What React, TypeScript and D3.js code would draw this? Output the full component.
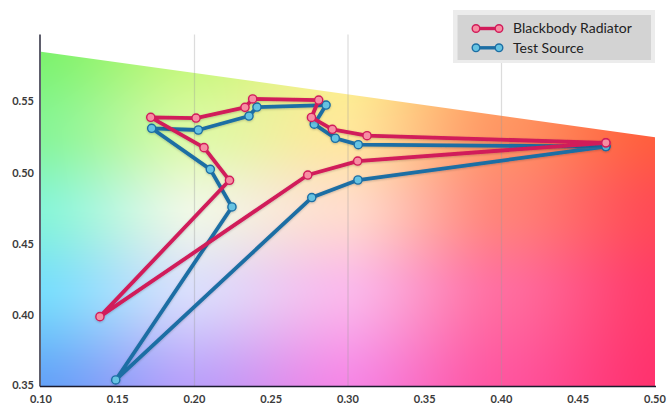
import React, { useEffect, useState } from "react";
import * as d3 from "d3";

const W = 668;
const H = 407;

// Blackbody Radiator (chromaticity path)
const blackbodyX = [0.468, 0.3124, 0.2898, 0.2762, 0.2809, 0.2379, 0.2329, 0.201, 0.1715, 0.2062, 0.2228, 0.1384, 0.2738, 0.3063, 0.468];
const blackbodyY = [0.521, 0.526, 0.5305, 0.5388, 0.551, 0.5518, 0.5459, 0.5384, 0.5389, 0.5176, 0.4947, 0.399, 0.4984, 0.5082, 0.521];

// Test Source
const testX = [0.468, 0.3067, 0.2917, 0.278, 0.2857, 0.2407, 0.2355, 0.2025, 0.1721, 0.2103, 0.2244, 0.1487, 0.2764, 0.3065, 0.468];
const testY = [0.5184, 0.5197, 0.5242, 0.5341, 0.5475, 0.5461, 0.5398, 0.53, 0.5312, 0.5024, 0.476, 0.3546, 0.4826, 0.4949, 0.5184];

const xTicks = [0.1, 0.15, 0.2, 0.25, 0.3, 0.35, 0.4, 0.45, 0.5];
const yTicks = [0.35, 0.4, 0.45, 0.5, 0.55];
const xGrid = [0.2, 0.3, 0.4];

// colored gamut area outline
const gamutX = [0.1, 0.5, 0.5, 0.1];
const gamutY = [0.585, 0.525, 0.35, 0.35];

const seriesNames = ["Blackbody Radiator", "Test Source"];

const xScale = d3.scaleLinear().domain([0.1, 0.5]).range([41, 655]);
const yScale = d3.scaleLinear().domain([0.35, 0.55]).range([386.5, 101.5]);
const yTop = 0.597;

// colour field anchors (grid)
const gridCols = [40, 190, 345, 500, 656];
const gridRows = [50, 130, 210, 290, 386];
const gridColors: number[][][] = [
  [[125, 242, 110], [195, 247, 120], [250, 242, 135], [255, 170, 90], [255, 110, 60]],
  [[135, 245, 150], [220, 250, 165], [255, 232, 155], [255, 150, 100], [255, 95, 60]],
  [[135, 245, 215], [240, 248, 230], [255, 220, 205], [255, 132, 120], [255, 75, 85]],
  [[120, 222, 252], [218, 222, 252], [250, 185, 235], [255, 110, 160], [255, 60, 105]],
  [[100, 162, 248], [185, 160, 250], [245, 135, 230], [255, 85, 160], [255, 50, 110]],
];

function colorAt(px: number, py: number): number[] {
  const findIdx = (arr: number[], v: number) => {
    let i = 0;
    while (i < arr.length - 2 && v > arr[i + 1]) i++;
    const t = Math.max(0, Math.min(1, (v - arr[i]) / (arr[i + 1] - arr[i])));
    return [i, t];
  };
  const [ci, tx] = findIdx(gridCols, px);
  const [ri, ty] = findIdx(gridRows, py);
  const sx = tx * tx * (3 - 2 * tx) * 0.5 + tx * 0.5;
  const sy = ty * ty * (3 - 2 * ty) * 0.5 + ty * 0.5;
  const c00 = gridColors[ri][ci], c01 = gridColors[ri][ci + 1];
  const c10 = gridColors[ri + 1][ci], c11 = gridColors[ri + 1][ci + 1];
  const out = [0, 0, 0];
  for (let k = 0; k < 3; k++) {
    const a = c00[k] + (c01[k] - c00[k]) * sx;
    const b = c10[k] + (c11[k] - c10[k]) * sx;
    out[k] = a + (b - a) * sy;
  }
  return out;
}

export default function App() {
  const [img, setImg] = useState<string>("");
  const x0 = 40, y0 = 35, x1 = 656, y1 = 387;

  useEffect(() => {
    const cw = x1 - x0, ch = y1 - y0;
    const canvas = document.createElement("canvas");
    canvas.width = cw;
    canvas.height = ch;
    const ctx = canvas.getContext("2d");
    if (!ctx) return;
    const data = ctx.createImageData(cw, ch);
    for (let j = 0; j < ch; j++) {
      for (let i = 0; i < cw; i++) {
        const c = colorAt(x0 + i, y0 + j);
        const o = (j * cw + i) * 4;
        data.data[o] = c[0];
        data.data[o + 1] = c[1];
        data.data[o + 2] = c[2];
        data.data[o + 3] = 255;
      }
    }
    ctx.putImageData(data, 0, 0);
    setImg(canvas.toDataURL());
  }, []);

  const gamutPath =
    d3.line<number>()
      .x((_, i) => xScale(gamutX[i]))
      .y((_, i) => yScale(gamutY[i]))(gamutX.map((d) => d)) + "Z";

  const line = d3.line<[number, number]>().x((d) => xScale(d[0])).y((d) => yScale(d[1]));
  const redPts: [number, number][] = blackbodyX.map((v, i) => [v, blackbodyY[i]]);
  const bluePts: [number, number][] = testX.map((v, i) => [v, testY[i]]);

  const red = "#d11b5a";
  const redFill = "#f78ea3";
  const blue = "#1c6ea4";
  const blueFill = "#66c3e2";
  const font = "Lato, 'Open Sans', sans-serif";

  const series = [
    { pts: bluePts, stroke: blue, fill: blueFill },
    { pts: redPts, stroke: red, fill: redFill },
  ];

  return (
    <svg width={W} height={H} style={{ position: "absolute", left: 0, top: 0 }}>
      <defs>
        <clipPath id="gamutClip">
          <path d={gamutPath} />
        </clipPath>
        <filter id="shadow" x="-10%" y="-10%" width="120%" height="120%">
          <feDropShadow dx="0" dy="0.8" stdDeviation="1.2" floodColor="#000" floodOpacity="0.22" />
        </filter>
      </defs>
      <rect x={0} y={0} width={W} height={H} fill="#fff" />
      {img && (
        <image href={img} x={x0} y={y0} width={x1 - x0} height={y1 - y0} clipPath="url(#gamutClip)" />
      )}
      {xGrid.map((g) => (
        <line key={g} x1={xScale(g)} x2={xScale(g)} y1={yScale(yTop)} y2={yScale(0.35)} stroke="#9a9a9a" strokeOpacity={0.35} strokeWidth={1.2} />
      ))}
      {/* axes */}
      <line x1={40} x2={40} y1={yScale(yTop)} y2={yScale(0.35)} stroke="#1a1a2e" strokeWidth={1.4} />
      <line x1={40} x2={656} y1={yScale(0.35)} y2={yScale(0.35)} stroke="#1a1a2e" strokeWidth={1.4} />
      {yTicks.map((t) => (
        <text key={t} x={34} y={yScale(t) - (t === 0.35 ? 1 : 0)} dy="0.35em" textAnchor="end" fontFamily={font} fontWeight={700} fontSize={11} fill="#3a3a3a">
          {t.toFixed(2)}
        </text>
      ))}
      {xTicks.map((t) => (
        <text key={t} x={xScale(t)} y={399} dy="0.35em" textAnchor="middle" fontFamily={font} fontWeight={700} fontSize={11} fill="#3a3a3a">
          {t.toFixed(2)}
        </text>
      ))}
      {/* series */}
      {series.map((s, si) => (
        <g key={si} filter="url(#shadow)">
          <path d={line(s.pts) || ""} fill="none" stroke={s.stroke} strokeWidth={3.8} strokeLinejoin="round" />
          {s.pts.map((p, i) => (
            <circle key={i} cx={xScale(p[0])} cy={yScale(p[1])} r={4.1} fill={s.fill} stroke={s.stroke} strokeWidth={1.4} />
          ))}
        </g>
      ))}
      {/* legend */}
      <rect x={453} y={10} width={202} height={53} fill="#ececec" />
      <rect x={457.5} y={15} width={193.5} height={45} fill="#d3d3d3" />
      {[red, blue].map((c, i) => {
        const ly = 28.5 + i * 19.3;
        const f = i === 0 ? redFill : blueFill;
        return (
          <g key={i}>
            <line x1={476} x2={499} y1={ly} y2={ly} stroke={c} strokeWidth={3.4} />
            <circle cx={476} cy={ly} r={3.8} fill={f} stroke={c} strokeWidth={1.4} />
            <circle cx={499} cy={ly} r={3.8} fill={f} stroke={c} strokeWidth={1.4} />
            <text x={513} y={ly} dy="0.35em" fontFamily={font} fontSize={14} fill="#222">
              {seriesNames[i]}
            </text>
          </g>
        );
      })}
    </svg>
  );
}
